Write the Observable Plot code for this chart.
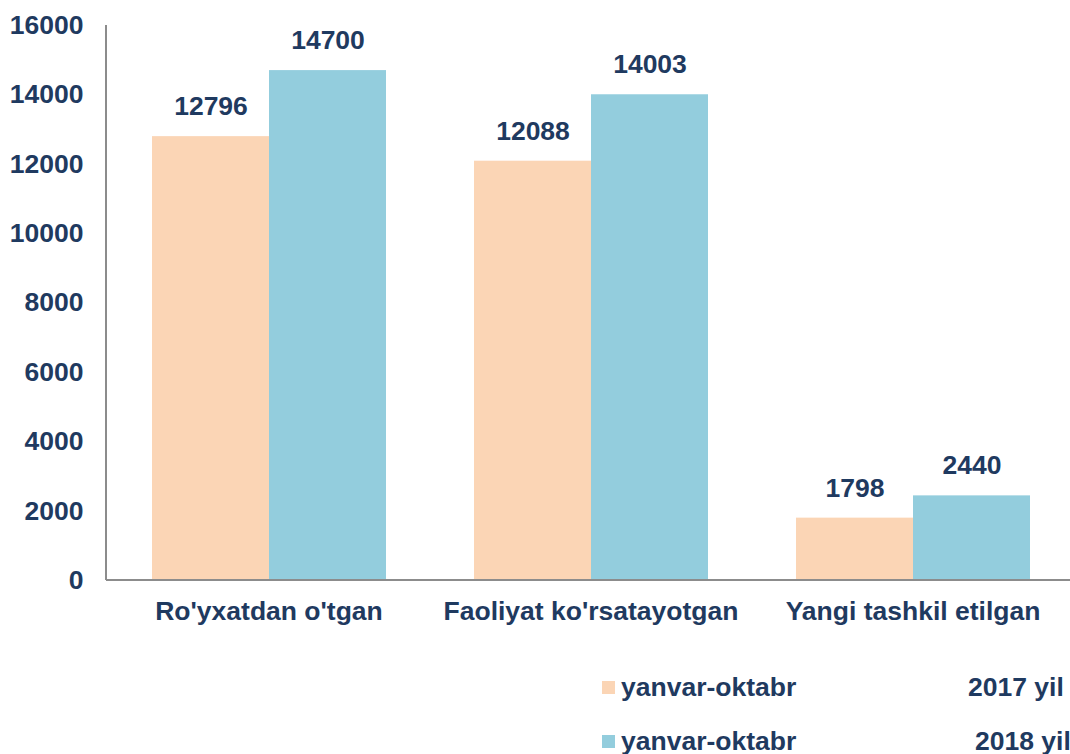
<!DOCTYPE html>
<html>
<head>
<meta charset="utf-8">
<script src="https://cdn.jsdelivr.net/npm/d3@7"></script>
<script src="https://cdn.jsdelivr.net/npm/@observablehq/plot@0.6"></script>
<style>
  html, body { margin: 0; padding: 0; background: #fff; overflow: hidden; }
  #wrap { position: relative; width: 1070px; height: 754px; font-family: "Liberation Sans", Arial, sans-serif; color: #1f3a60; }
  .lg { position: absolute; font-size: 26.5px; font-weight: bold; white-space: nowrap; line-height: 1; }
  .sw { position: absolute; width: 13px; height: 13px; }
</style>
</head>
<body>
<div id="wrap"></div>
<script>
const categories = ["Ro'yxatdan o'tgan", "Faoliyat ko'rsatayotgan", "Yangi tashkil etilgan"];
const seriesKeys = ["2017", "2018"];
const values2017 = [12796, 12088, 1798];
const values2018 = [14700, 14003, 2440];
const yTicks = [0, 2000, 4000, 6000, 8000, 10000, 12000, 14000, 16000];
const legendLabels = ["yanvar-oktabr", "yanvar-oktabr"];
const legendYears = ["2017 yil", "2018 yil"];
const colors = ["#fbd5b5", "#93cddd"];
const textColor = "#1f3a60";

const data = [];
categories.forEach((c, i) => {
  data.push({cat: c, s: seriesKeys[0], v: values2017[i]});
  data.push({cat: c, s: seriesKeys[1], v: values2018[i]});
});

const plot = Plot.plot({
  width: 1070,
  height: 650,
  marginLeft: 107,
  marginRight: -4,
  marginTop: 25,
  marginBottom: 70,
  style: {fontFamily: "'Liberation Sans', Arial, sans-serif", color: textColor, background: "#fff", overflow: "hidden"},
  fx: {domain: categories, paddingInner: 0.27, paddingOuter: 0.135, label: null},
  x: {domain: seriesKeys, padding: 0, axis: null},
  y: {domain: [0, 16000], label: null},
  color: {domain: seriesKeys, range: colors},
  marks: [
    Plot.axisY({ticks: yTicks, tickFormat: d => String(d), tickSize: 0, tickPadding: 68, fontSize: 26.5, fontWeight: "bold", fill: textColor, label: null}),
    Plot.axisFx({anchor: "bottom", tickSize: 0, tickPadding: 21, fontSize: 26.5, fontWeight: "bold", fill: textColor, label: null}),
    Plot.barY(data, {fx: "cat", x: "s", y: "v", fill: "s"}),
    Plot.text(data, {fx: "cat", x: "s", y: "v", text: d => String(d.v), dy: -30, fontSize: 26.5, fontWeight: "bold", fill: textColor})
  ]
});

const wrap = document.getElementById("wrap");
wrap.appendChild(plot);

// axis lines drawn from the plot's own scales
const ys = plot.scale("y");
const y0 = ys.apply(0), yTop = ys.apply(16000);
const svg = d3.select(plot);
svg.append("line").attr("x1", 106).attr("x2", 1070).attr("y1", y0).attr("y2", y0)
  .attr("stroke", "#8c8c8c").attr("stroke-width", 2);
svg.append("line").attr("x1", 106).attr("x2", 106).attr("y1", yTop).attr("y2", y0)
  .attr("stroke", "#8c8c8c").attr("stroke-width", 2);

// legend below the svg
const rows = [{top: 674, yearLeft: 968}, {top: 728, yearLeft: 975}];
rows.forEach((r, i) => {
  const sw = document.createElement("div");
  sw.className = "sw";
  sw.style.left = "602px";
  sw.style.top = (r.top + 7) + "px";
  sw.style.background = colors[i];
  wrap.appendChild(sw);
  const t = document.createElement("div");
  t.className = "lg";
  t.style.left = "621px";
  t.style.top = r.top + "px";
  t.textContent = legendLabels[i];
  wrap.appendChild(t);
  const yv = document.createElement("div");
  yv.className = "lg";
  yv.style.left = r.yearLeft + "px";
  yv.style.top = r.top + "px";
  yv.textContent = legendYears[i];
  wrap.appendChild(yv);
});
</script>
</body>
</html>
